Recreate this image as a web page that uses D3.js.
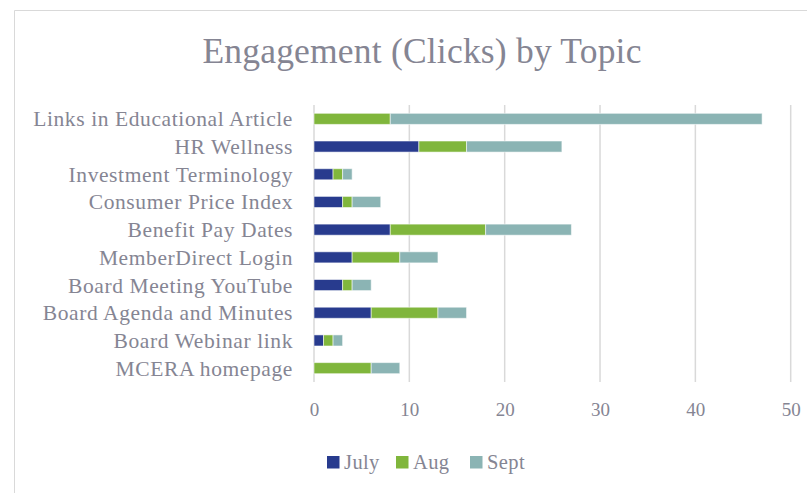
<!DOCTYPE html>
<html>
<head>
<meta charset="utf-8">
<script src="https://cdn.jsdelivr.net/npm/d3@7"></script>
<style>
  html, body { margin: 0; padding: 0; background: #fff; }
  svg { display: block; }
  text { font-family: "Liberation Serif", "DejaVu Serif", serif; fill: #858593; }
</style>
</head>
<body>
<svg id="chart" width="807" height="493"></svg>
<script>
const categories = [
  "Links in Educational Article",
  "HR Wellness",
  "Investment Terminology",
  "Consumer Price Index",
  "Benefit Pay Dates",
  "MemberDirect Login",
  "Board Meeting YouTube",
  "Board Agenda and Minutes",
  "Board Webinar link",
  "MCERA homepage"
];
const seriesNames = ["July", "Aug", "Sept"];
const july = [0, 11, 2, 3, 8, 4, 3, 6, 1, 0];
const aug  = [8, 5, 1, 1, 10, 5, 1, 7, 1, 6];
const sept = [39, 10, 1, 3, 9, 4, 2, 3, 1, 3];
const xTicks = [0, 10, 20, 30, 40, 50];
const colors = ["#283B8E", "#80B63C", "#8BB4B4"];
const title = "Engagement (Clicks) by Topic";

const svg = d3.select("#chart");

// outer chart border (top & left visible)
svg.append("path")
  .attr("d", "M14.5,493 L14.5,10.5 L807,10.5")
  .attr("fill", "none").attr("stroke", "#d9d9d9").attr("stroke-width", 1);

const plot = { left: 314, right: 790.7, top: 105, bottom: 382 };

const x = d3.scaleLinear().domain([0, 50]).range([plot.left, plot.right]);
const y = d3.scaleBand().domain(categories).range([plot.top, plot.bottom])
  .paddingInner(0.6).paddingOuter(0.3);

// gridlines
svg.append("g").selectAll("line").data(xTicks).join("line")
  .attr("x1", d => x(d)).attr("x2", d => x(d))
  .attr("y1", plot.top).attr("y2", plot.bottom)
  .attr("stroke", "#d9d9d9").attr("stroke-width", 1.5);

// stacked data
const rows = categories.map((c, i) => ({ cat: c, July: july[i], Aug: aug[i], Sept: sept[i] }));
const stack = d3.stack().keys(seriesNames)(rows);

svg.append("g").selectAll("g").data(stack).join("g")
  .attr("fill", (d, i) => colors[i])
  .selectAll("rect").data(d => d.filter(s => s[1] - s[0] > 0)).join("rect")
  .attr("x", d => x(d[0]))
  .attr("width", d => x(d[1]) - x(d[0]))
  .attr("y", d => y(d.data.cat))
  .attr("height", y.bandwidth())
  .attr("stroke", "rgba(255,255,255,0.55)")
  .attr("stroke-width", 1);

// x axis labels
const xAxis = d3.axisBottom(x).tickValues(xTicks).tickSize(0).tickPadding(0);
const gx = svg.append("g").attr("transform", `translate(0,${plot.bottom + 34})`).call(xAxis);
gx.select(".domain").remove();
gx.selectAll("text").attr("font-size", 19).attr("dy", 0)
  .style("font-family", '"Liberation Serif", serif').style("fill", "#858593");

// y axis labels
const yAxis = d3.axisLeft(y).tickSize(0).tickPadding(21);
const gy = svg.append("g").attr("transform", `translate(${plot.left},0)`).call(yAxis);
gy.select(".domain").remove();
gy.selectAll("text").attr("font-size", 21.5).attr("dy", "0.35em")
  .attr("letter-spacing", "0.6px")
  .style("font-family", '"Liberation Serif", serif').style("fill", "#858593");

// title
svg.append("text").attr("x", 422).attr("y", 63).attr("text-anchor", "middle")
  .attr("font-size", 35.5).attr("letter-spacing", "0.2px").text(title);

// legend
const legendX = [327, 396, 470];
const lg = svg.append("g").selectAll("g").data(seriesNames).join("g")
  .attr("transform", (d, i) => `translate(${legendX[i]},456)`);
lg.append("rect").attr("width", 12.5).attr("height", 12.5).attr("fill", (d, i) => colors[i]);
lg.append("text").attr("x", 17).attr("y", 13).attr("font-size", 20.5)
  .attr("letter-spacing", "0.4px").text(d => d);
</script>
</body>
</html>
